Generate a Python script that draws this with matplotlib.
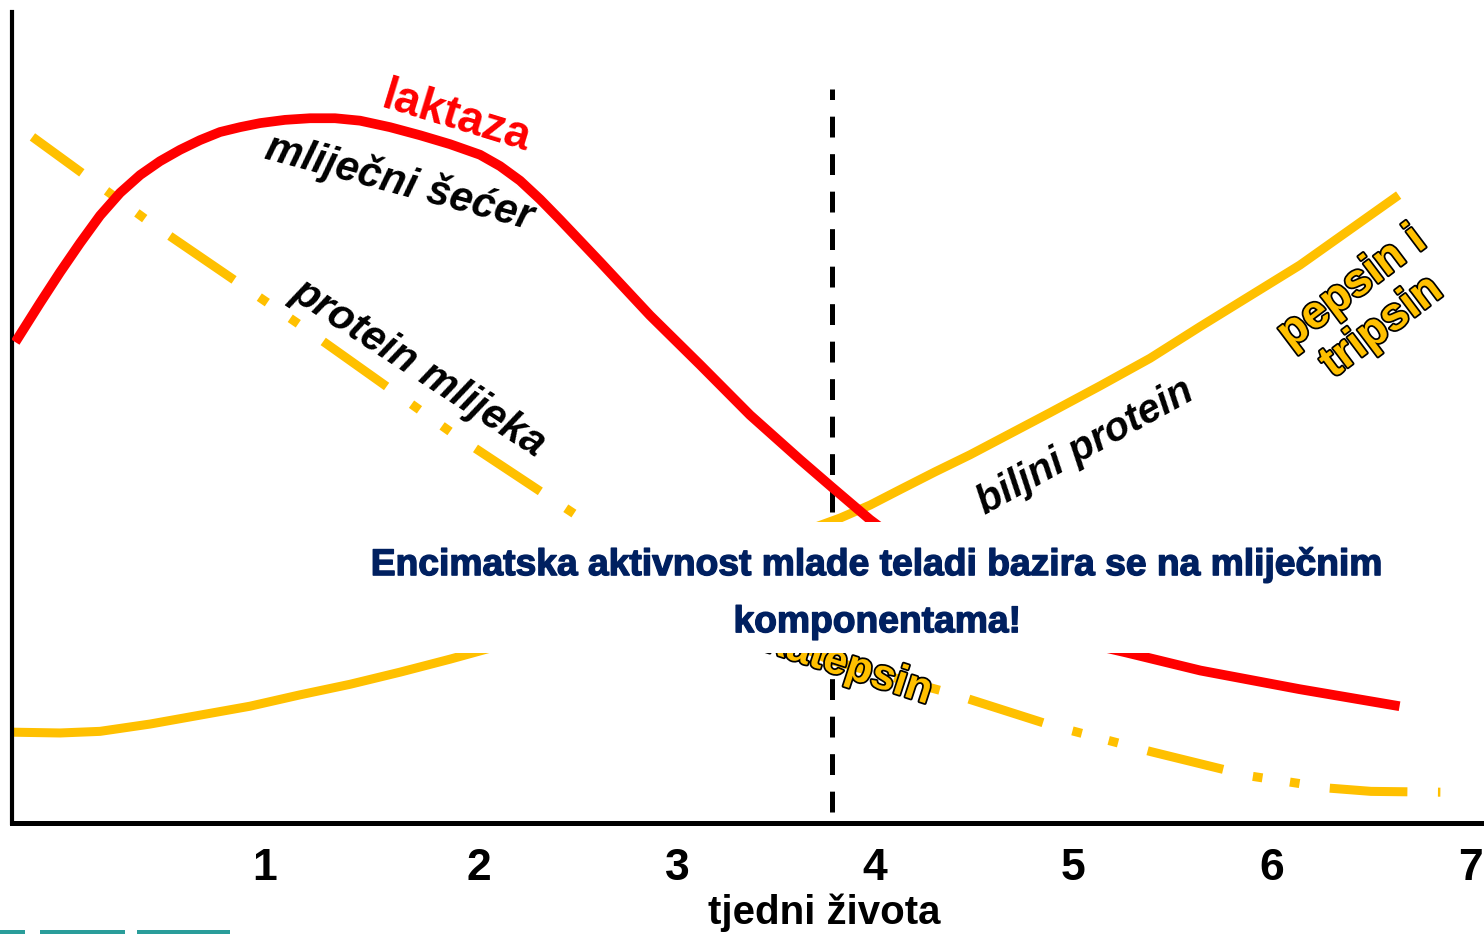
import numpy as np
import matplotlib.pyplot as plt
from matplotlib.patches import Rectangle
import matplotlib.patheffects as pe

plt.rcParams['font.family'] = ['Liberation Sans', 'DejaVu Sans']
plt.rcParams['lines.scale_dashes'] = False

# values (x = weeks of life, y = relative activity 0-100)
laktaza_x = [-0.323, -0.212, -0.111, -0.010, 0.091, 0.192, 0.293, 0.393, 0.494, 0.595, 0.696, 0.797, 0.898,
             1.024, 1.150, 1.276, 1.402, 1.553, 1.705, 1.856, 2.007, 2.108, 2.209, 2.310, 2.410, 2.511,
             2.612, 2.864, 3.117, 3.369, 3.621, 3.782, 3.974, 4.38, 4.88, 5.27, 5.64, 6.14, 6.62]
laktaza_y = [59.8, 64.1, 67.9, 71.5, 74.9, 77.7, 79.9, 81.6, 83.0, 84.2, 85.2, 85.8, 86.3,
             86.7, 86.9, 86.9, 86.6, 85.8, 84.8, 83.7, 82.4, 81.0, 79.2, 76.9, 74.4, 71.8,
             69.2, 62.6, 56.5, 50.3, 44.8, 41.4, 37.4, 30.0, 23.2, 21.0, 18.8, 16.5, 14.5]

katepsin_x = [-0.25, 0.34, 1.10, 1.86, 2.49, 3.12, 3.77, 4.38, 4.88, 5.39, 5.89, 6.29, 6.50, 6.85]
katepsin_y = [84.6, 74.1, 61.4, 48.2, 38.0, 27.5, 20.1, 16.0, 12.1, 8.8, 5.8, 4.3, 3.9, 3.8]

pepsin_x = [-0.353, -0.111, 0.091, 0.343, 0.595, 0.847, 1.099, 1.351, 1.604, 1.856, 2.108, 2.612, 3.117,
            3.520, 3.823, 3.974, 4.125, 4.302, 4.478, 4.680, 4.882, 5.134, 5.386, 5.638, 5.890, 6.142, 6.621]
pepsin_y = [11.2, 11.1, 11.3, 12.2, 13.3, 14.4, 15.8, 17.1, 18.6, 20.2, 21.9, 26.3, 30.8,
            34.9, 37.6, 39.2, 41.1, 43.3, 45.4, 48.0, 50.6, 53.9, 57.3, 61.2, 65.0, 68.8, 77.1]

weaning_week = 3.78
tick_pos = [0.92, 2, 3, 4, 5, 6, 7]
tick_labels = ['1', '2', '3', '4', '5', '6', '7']

red = '#FF0000'
yellow = '#FFC000'
navy = '#002060'

fig = plt.figure(figsize=(14.84, 9.34), dpi=100)
ax = fig.add_axes([12/1484, 1 - 823/934, 1 - 12/1484, 811/934])
ax.set_xlim(-0.353, 7.07)
ax.set_ylim(0, 100)

ax.plot(laktaza_x, laktaza_y, color=red, lw=7, solid_joinstyle='round', zorder=3)
ax.plot(pepsin_x, pepsin_y, color=yellow, lw=6.5, solid_joinstyle='round', zorder=2)
ax.plot(katepsin_x, katepsin_y, color=yellow, lw=6.5, dash_capstyle='butt',
        linestyle=(12, (56, 22, 7, 20, 7, 22)), zorder=2)
ax.vlines(weaning_week, 1.4, 90.5, colors='k', lw=3.6, linestyles=(0, (15, 12)), zorder=2)

for s in ['top', 'right']:
    ax.spines[s].set_visible(False)
ax.spines['left'].set_linewidth(3)
ax.spines['bottom'].set_linewidth(3.6)
ax.set_yticks([])
ax.set_xticks(tick_pos)
ax.set_xticklabels(tick_labels, fontsize=32, fontweight='bold')
ax.tick_params(axis='x', length=0, pad=18)
ax.set_xlabel('tjedni života', fontsize=29, fontweight='bold')
ax.xaxis.label.set_va('center')
ax.xaxis.set_label_coords((824 - 12) / 1472, (823 - 913) / 811)

outline = [pe.withStroke(linewidth=2.5, foreground='k')]
ax.text(1.89, 86.9, 'laktaza', color=red, fontsize=33, fontweight='bold',
        rotation=-17, ha='center', va='center', zorder=5)
ax.text(1.60, 79.0, 'mliječni šećer', color='k', fontsize=30, fontweight='bold', style='italic',
        rotation=-15, ha='center', va='center', zorder=5)
ax.text(1.70, 56.1, 'protein mlijeka', color='k', fontsize=30, fontweight='bold', style='italic',
        rotation=-33, ha='center', va='center', zorder=5)
ax.text(5.06, 46.4, 'biljni protein', color='k', fontsize=29, fontweight='bold', style='italic',
        rotation=29, ha='center', va='center', zorder=5)
ax.text(6.48, 63.6, 'pepsin i\ntripsin', color=yellow, fontsize=33, fontweight='bold',
        rotation=37, ha='center', va='center', linespacing=1.15, zorder=5, path_effects=outline)
ax.text(3.86, 19.3, 'katepsin', color=yellow, fontsize=31, fontweight='bold',
        rotation=-18, ha='center', va='center', zorder=4, path_effects=outline)

# white overlay box with the message
ax.add_patch(Rectangle((1.40, 21.0), 5.25, 16.1, facecolor='white', edgecolor='none', zorder=6))
heavy = [pe.withStroke(linewidth=1.0, foreground=navy)]
ax.text(4.01, 31.8, 'Encimatska aktivnost mlade teladi bazira se na mliječnim',
        color=navy, fontsize=26.8, fontweight='bold', ha='center', va='center', zorder=7, path_effects=heavy)
ax.text(4.01, 24.7, 'komponentama!', color=navy, fontsize=26.8, fontweight='bold',
        ha='center', va='center', zorder=7, path_effects=heavy)

# cut-off logo at the bottom left
teal = '#2A9D9A'
for x0, w in [(0, 25), (40, 85), (137, 93)]:
    fig.patches.append(Rectangle((x0 / 1484, 0), w / 1484, 4 / 934, transform=fig.transFigure,
                                 facecolor=teal, edgecolor='none'))

fig.savefig('out.png', dpi=100)
